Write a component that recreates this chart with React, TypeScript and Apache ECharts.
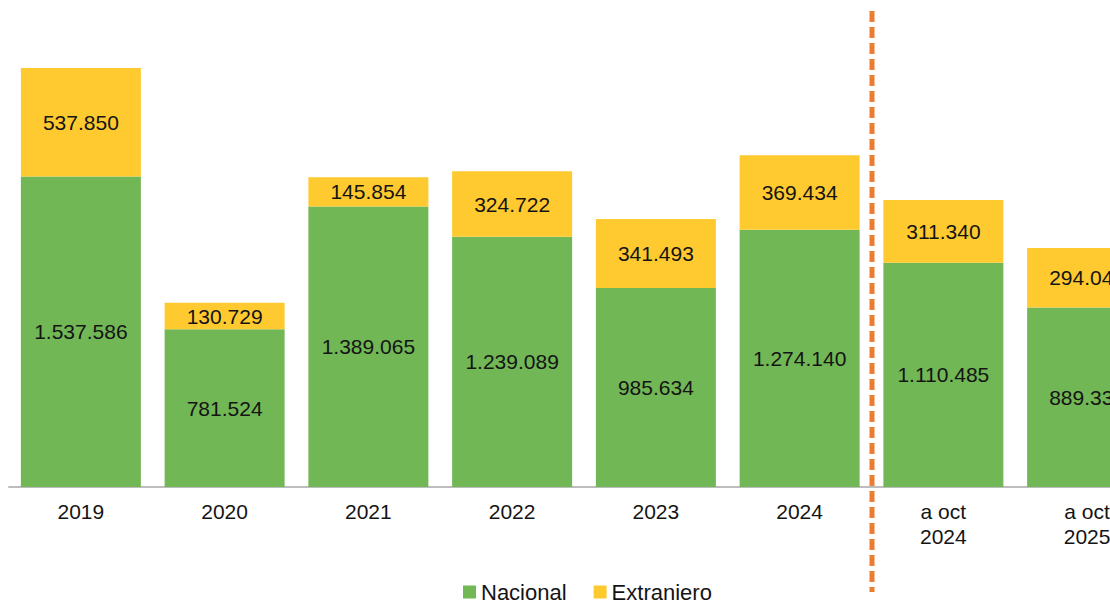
import React, { useEffect, useRef } from "react";
import * as echarts from "echarts";

const categories = ["2019", "2020", "2021", "2022", "2023", "2024", "a oct\n2024", "a oct\n2025"];
const nacional = [1537586, 781524, 1389065, 1239089, 985634, 1274140, 1110485, 889335];
const extranjero = [537850, 130729, 145854, 324722, 341493, 369434, 311340, 294046];
const seriesNames = ["Nacional", "Extranjero"];

const fmt = (v: number) => String(Math.round(v)).replace(/\B(?=(\d{3})+(?!\d))/g, ".");

export default function App() {
  const ref = useRef<HTMLDivElement>(null);
  useEffect(() => {
    if (!ref.current) return;
    const chart = echarts.init(ref.current, null, { renderer: "svg" });
    const font = "'Liberation Sans', Arial, sans-serif";
    const labelStyle = {
      show: true,
      position: "inside" as const,
      color: "#141414",
      fontSize: 21,
      fontFamily: font,
      formatter: (p: any) => fmt(p.value),
    };
    chart.setOption({
      animation: false,
      backgroundColor: "#ffffff",
      textStyle: { fontFamily: font },
      grid: { left: 9, width: 1150, top: 2.5, height: 484.5, outerBoundsMode: "none", containLabel: false },
      legend: {
        left: 458,
        top: 576,
        icon: "rect",
        itemWidth: 13,
        itemHeight: 13,
        itemGap: 27,
        textStyle: { fontSize: 22, color: "#141414", fontFamily: font },
        data: seriesNames,
      },
      xAxis: {
        type: "category",
        data: categories,
        axisLine: { show: true, lineStyle: { color: "#bdbdbd", width: 2 } },
        axisTick: { show: false },
        axisLabel: {
          color: "#141414",
          fontSize: 21,
          fontFamily: font,
          lineHeight: 25,
          margin: 12,
          interval: 0,
        },
      },
      yAxis: {
        type: "value",
        show: false,
        min: 0,
        max: 2400000,
        splitLine: { show: false },
      },
      series: [
        {
          name: seriesNames[0],
          type: "bar",
          stack: "total",
          barWidth: 120,
          data: nacional,
          itemStyle: { color: "#71B755" },
          label: labelStyle,
        },
        {
          name: seriesNames[1],
          type: "bar",
          stack: "total",
          barWidth: 120,
          data: extranjero,
          itemStyle: { color: "#FFCA30" },
          label: labelStyle,
        },
      ],
      graphic: [
        {
          type: "line",
          shape: { x1: 872, y1: 11, x2: 872, y2: 592 },
          style: { stroke: "#ED7D31", lineWidth: 5, lineDash: [11, 5] },
          z: 100,
        },
      ],
    });
    return () => chart.dispose();
  }, []);
  return (
    <div
      ref={ref}
      style={{ position: "fixed", left: 0, top: 0, width: 1110, height: 600, overflow: "hidden" }}
    />
  );
}
